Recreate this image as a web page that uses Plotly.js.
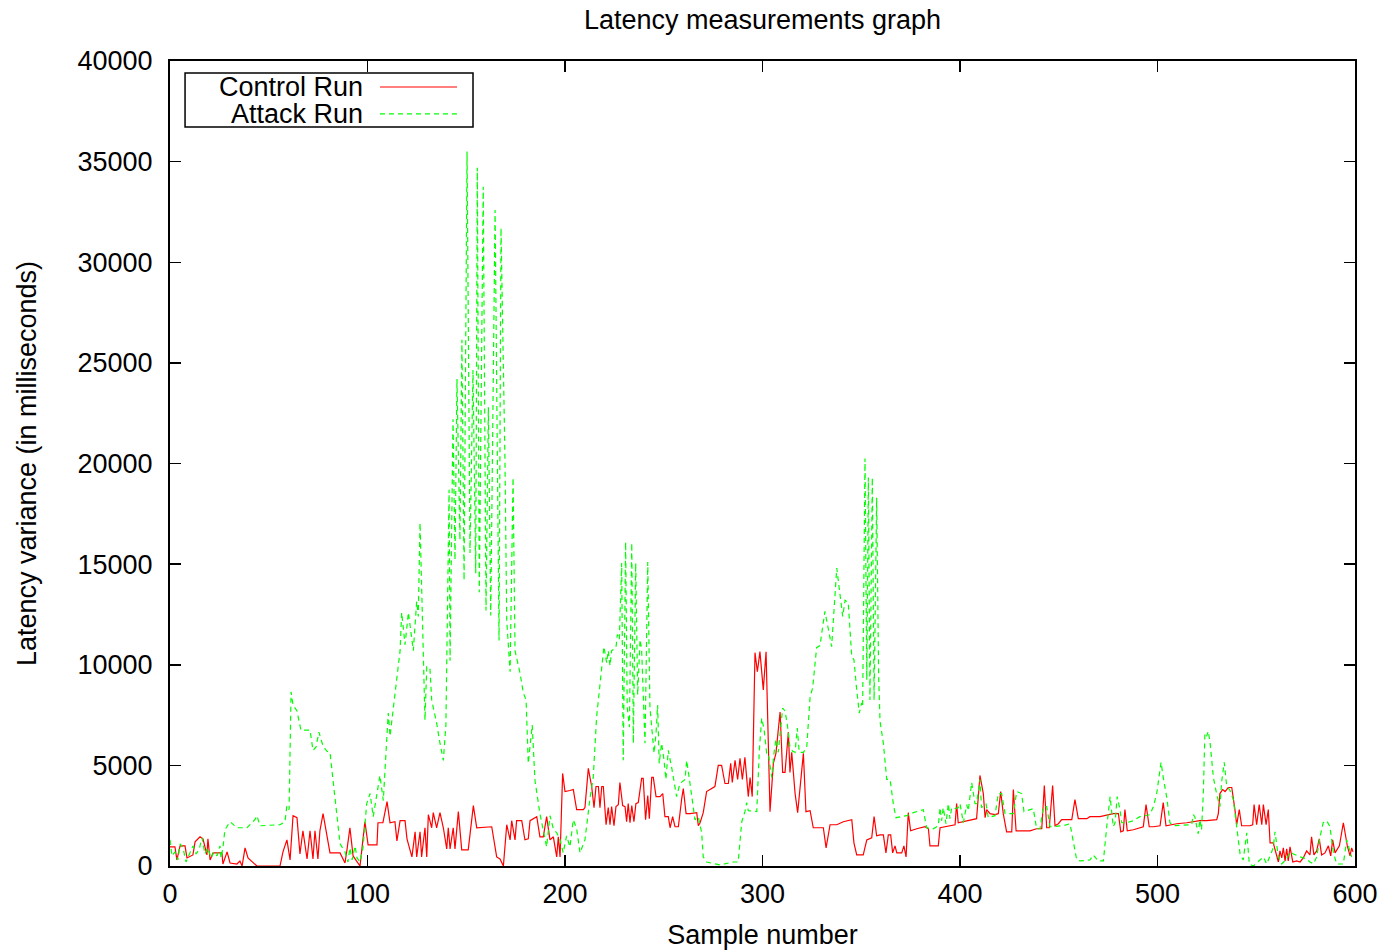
<!DOCTYPE html>
<html>
<head>
<meta charset="utf-8">
<script src="https://cdn.plot.ly/plotly-3.0.1.min.js"></script>
<style>html,body{margin:0;padding:0;background:#fff;}#chart{width:1384px;height:951px;}</style>
</head>
<body>
<div id="chart"></div>
<script>
// ---- data ----
const chartTitle = "Latency measurements graph";
const xTitle = "Sample number";
const yTitle = "Latency variance (in milliseconds)";
const seriesNames = ["Control Run", "Attack Run"];
const xTickVals = [0, 100, 200, 300, 400, 500, 600];
const yTickVals = [0, 5000, 10000, 15000, 20000, 25000, 30000, 35000, 40000];

const controlX = [
0,2.5,3.5,5.1,7.6,8.6,11.6,12.7,15.2,16.7,
18.7,19.2,20.3,21.8,26.3,26.8,28.9,30.4,33.9,35.4,
36.5,38,39.5,42,44,55.7,57.2,59.2,60.8,62.3,
64.3,65.8,67.3,69.4,70.9,72.4,73.4,74.9,75.9,77.5,
79.5,81,86.1,88.6,89.6,91.1,92.7,94.7,96.2,98.7,
100.3,104.8,105.3,107.8,109.9,111.4,113.9,114.9,116.5,119,
120,121.5,122.5,124.1,124.9,126.6,127.4,129.1,130,130.8,
132.5,133.3,135,136.7,138.4,140.1,140.9,141.8,143.4,144.3,
146,147.7,151,153.6,155.3,162.9,165.4,167.1,168.8,170.5,
172.2,173,174.7,175.5,178.1,179.7,181.4,182.3,185.7,187.3,
189,190.7,192.4,194.1,195.8,196.6,197.5,198.8,200,202.5,
204.2,205.9,209.3,210.1,211.8,213.5,214.7,215.7,216.9,217.7,
218.6,219.4,220.8,221.9,222.8,223.6,224.8,225.8,227,227.8,
229.2,230.4,231.2,232,232.9,233.8,234.9,235.9,237.1,238.8,
239.6,240.8,241.9,242.7,243.9,244.7,246.1,248.1,249.5,250.6,
252.3,253.2,254.5,255.7,257.4,259.1,259.9,261.3,263.3,266.7,
267.5,268.4,270,271.7,275.9,277.6,279.3,281,282.7,283.9,
284.7,286.1,287.4,288.6,289.8,291.1,292.8,293.7,294.8,296.2,
297.4,298.7,300.4,301.8,303.8,305.5,306.8,308.9,310.2,311.4,
313.1,313.9,314.8,316.5,317.8,320.7,322,324.1,325.7,330.8,
332.2,334.2,337.6,340.9,345.2,346.3,347.7,351,352.8,355.3,
356.5,357.8,359.5,361.2,362.5,363.7,364.9,365.9,367.1,368,
370.5,371.6,372.7,373.8,375,378.1,382.3,384,384.8,389,
389.9,397.5,398.3,399.1,401.7,405.1,408.4,410.1,411.8,412.7,
413.5,415.2,417.7,419.4,420.6,421.9,423.6,426.2,427,428.4,
435.4,438.8,441.4,442.7,443.9,445.2,446.9,448.1,449.8,451.5,
456.6,458.2,459.9,464.2,465.8,470.9,477.6,480.2,481.4,482.7,
483.5,484.7,487.8,492.8,494.2,495.8,497.9,501.3,502.9,504.3,
509.7,514.8,518.1,521.5,524.9,528.3,530,530.8,531.6,533,
534.2,535.8,537.6,539.2,540.1,541.4,542.6,546.8,548.2,548.9,
550.2,551.5,552.8,553.6,555,556.1,557,558.6,560,561.2,
562,562.9,563.7,564.6,565.4,566.2,567.1,568.5,570.5,572.2,
573.8,575.5,577.2,578,579.2,580.6,581.9,583.1,584.8,586.5,
587.7,588.7,589.9,592.1,594.1,596.1,597.5,598.3,599];

const controlY = [
950,950,300,1000,1000,400,550,1200,1450,1350,
550,1350,300,650,650,100,700,150,100,250,
0,900,400,150,0,0,700,1300,300,2500,
2400,600,1750,350,1750,350,1750,350,1750,2600,
1550,650,650,150,800,1900,500,200,0,2200,
1050,1050,2150,2150,3200,2150,2200,1250,2250,2250,
1350,800,450,1700,450,1700,450,1900,450,2550,
1900,2650,1900,2650,1900,850,1900,850,1900,850,
2700,800,800,3000,1900,1950,450,350,0,2050,
1300,2250,1300,2250,2250,1300,1350,2250,2450,1450,
1450,2450,1300,1450,450,1450,450,4600,3700,3750,
3800,2800,2800,2900,4850,3950,2900,3950,3950,2900,
3950,3950,2050,2900,2050,2950,2000,2950,3050,4150,
3000,2950,2200,3100,2150,3000,2200,3100,3150,4350,
4350,2300,3500,2350,4400,4400,3450,3450,3600,2450,
2450,1900,2450,1950,1950,3350,3850,2600,2600,2650,
2000,2150,2650,3700,3950,5000,5000,4100,4100,5100,
4150,5250,4300,5350,4300,5400,3450,4400,3450,10600,
9650,10650,8750,10650,2700,5100,5600,7650,4650,4650,
6650,4650,5650,3600,2650,5600,2700,2750,1900,1900,
900,2050,2050,2200,2300,1150,550,550,1300,1400,
2450,1500,1550,1550,650,1550,1550,650,1000,650,
650,1000,450,2650,1750,1850,1950,1850,1000,1000,
1900,2050,3100,2150,2200,2300,2350,4500,3600,2400,
2800,2600,2550,2600,3700,2600,1700,1700,3800,1750,
1750,1850,1850,4000,1900,1900,4000,2000,2100,2300,
2300,3300,2350,2350,2450,2450,2600,2600,1700,1750,
2800,1750,1800,1950,3050,1950,1950,2000,3150,2000,
2100,2150,2200,2250,2250,2300,2300,2600,3600,3800,
3700,3900,3900,2800,2050,2800,2000,2000,2050,3050,
2050,3050,2050,3050,2050,2800,1150,1150,700,200,
750,400,900,250,850,250,950,200,250,200,
400,750,550,1450,550,750,1350,550,650,1000,
500,1300,650,1000,2150,1000,500,900,700];

const attackX = [
0,1,2.5,4,5.1,6.6,8.1,10.1,11.6,13.2,
14.7,16.2,17.7,19.2,20.8,22.3,23.8,25.3,25.8,26.8,
27.8,30.4,33.9,39,43,44,45.6,55.7,58.2,59.2,
60.3,61.3,62.3,64.3,66.3,70.9,72.4,73.9,75.4,77.5,
79.5,81,86.1,88.6,90.1,91.1,92.2,93.7,94.7,96.2,
97.7,99.6,101.3,102.9,106.3,108,110.5,111.4,113.9,116.5,
117.3,119,120.7,123.2,124.9,125.7,126.6,128.3,129.1,130,
131.6,132.5,135,136.7,138.4,139.7,141.3,141.8,143.3,144.3,
145.3,146.8,147.8,148.9,150.4,151.9,153.4,154.8,155.6,156.6,
157.5,158.6,160,161.2,162.4,164.6,166.6,167.6,169.6,170.5,
172.2,173.7,174.7,177.2,178.9,180.3,181.4,183.4,184.8,187.3,
190.7,192.4,194.1,195.8,197.5,199.1,200.8,202.5,204.2,205.9,
207.6,210.1,212.7,214.3,216,218.6,219.7,221.1,221.9,222.8,
223.6,225.8,226.5,227.5,228.7,229.5,230.7,231.5,232.6,233.8,
234.6,235.8,236.8,238,238.8,240.5,241.9,243,245.1,246.1,
246.9,247.7,248.9,250.1,251.1,252.3,254,256.5,258.2,260.8,
261.6,263.3,265.8,267.5,269.2,270,271.7,278.5,285.2,287.7,
289.5,291.1,292,292.8,297.1,298.4,299.6,300.8,302.1,302.9,
304.7,305.8,306.8,308,310.2,311.4,312.6,313.9,315.3,316.5,
317.6,318.6,320.7,322.4,324.1,325.4,327.4,329.1,330.5,331.6,
333.3,335,337.6,339.2,340.6,341.8,343.4,345.2,346.3,347.7,
349,350.2,350.7,351.9,352.8,353.6,354.4,355.6,356.5,357.8,
358.8,359.5,361.2,362.9,364.6,366.3,367.6,373,376.4,381.4,
383.1,386.5,389,389.9,390.7,391.5,392.9,394.1,394.9,395.8,
397.5,399.1,400,401.7,403.4,404.2,405.9,407.6,408.4,410.1,
410.9,413.2,414.3,417.7,419.4,421.1,422.8,427,428.7,431.2,
432.4,437.1,438.8,440.5,442.2,443.9,445.6,452.3,455.7,459.1,
460.8,465.8,467.5,470,472.6,474.3,476,477.6,478.5,479.6,
481,481.9,484.4,487.8,491.1,496.2,497.9,499.6,501.8,502.9,
504.7,506.3,508,517.3,518.1,518.9,519.8,520.6,521.5,522.3,
523.2,524,524.9,525.7,526.6,528.3,530,531.6,532.5,533.8,
535,535.8,536.7,538.4,540.1,541.8,543.4,545.2,546.5,548.5,
551.9,553.6,555.3,558.6,559.5,561.2,562.9,565.4,567.1,568.8,
572.2,575.5,577.2,578.9,580.6,582.3,583.9,585.7,587.3,589,
590.7,594.1,595.8,597.5,598.3];

const attackY = [
1300,500,700,300,1100,900,200,700,1000,600,
800,1400,600,900,400,700,500,1000,400,900,
1800,2200,1900,1900,2300,2500,2000,2050,2200,3000,
2800,8650,8000,7700,6750,6750,5750,5900,6650,5950,
5700,5650,1100,700,200,900,300,1000,400,200,
900,3100,3600,2450,4500,3250,7600,6450,8600,10700,
12600,11000,12600,10700,13150,12400,17050,10250,7250,9900,
9850,8250,7100,6100,5250,7000,18700,10200,22200,15200,
24200,16200,26150,14200,35500,15550,24650,14550,34700,13600,
22500,33750,12700,22800,12450,32600,11200,31700,20200,12200,
9650,19300,10700,9600,8600,8250,5100,7000,4250,2600,
950,2500,1850,1650,1300,650,1500,950,2300,1850,
650,1300,3400,4400,7400,9900,10900,10100,10700,9950,
10700,10850,11500,11250,15050,5250,16100,7900,6900,16050,
6100,15050,8500,11250,10750,6100,15100,7900,5600,6600,
8000,5100,6100,5300,4300,5750,4900,3450,4100,4300,
5250,4100,2300,2450,1650,450,200,50,200,200,
2200,2700,3150,2750,2700,5750,7350,6800,5600,5600,
4400,5600,6300,5650,7850,7700,7000,5900,5700,5650,
6850,5650,5650,5900,8400,8850,10850,10950,12050,12650,
11800,10900,14800,13350,12400,13200,13100,10400,10250,8750,
7600,8100,7900,20250,9250,19300,8250,19300,8250,18300,
9500,7200,6100,4300,4300,3050,2400,2500,2650,2800,
1900,1850,2000,2900,2250,2900,2100,3100,2350,2900,
2850,2900,3100,2150,3050,2750,4150,3100,3100,4300,
2900,3100,2400,2500,3600,3600,2600,2600,3700,3600,
2700,2850,1850,1850,2950,2950,1950,2000,2100,300,
250,300,550,250,250,1950,3450,1950,2150,3450,
2800,2150,2150,2250,2450,2550,2950,3600,5150,4400,
3400,2150,2000,2050,2550,2450,1950,1600,2300,1800,
3600,6600,6450,6700,6150,4400,3550,2950,4200,5150,
4000,3850,3750,3300,1900,600,300,1650,100,0,
300,450,100,900,1700,450,100,350,700,600,
450,350,200,100,450,1450,2150,2250,1950,700,
100,100,1300,800,450];

// ---- styles ----
const FONT = "Liberation Sans, Arial, Helvetica, sans-serif";
const FS = 27;
const RED = "#ff0000";
const GREEN = "#00ff00";
const GREEN_DASH = "5px,4px";

const traces = [
  {x: controlX, y: controlY, name: seriesNames[0], type: "scatter", mode: "lines",
   line: {color: RED, width: 1.2}, hoverinfo: "x+y"},
  {x: attackX, y: attackY, name: seriesNames[1], type: "scatter", mode: "lines",
   line: {color: GREEN, width: 1.2, dash: GREEN_DASH}, hoverinfo: "x+y"}
];

const axisCommon = {
  showline: true, linecolor: "#000", linewidth: 2, mirror: "ticks",
  ticks: "inside", ticklen: 11, tickwidth: 1.5, tickcolor: "#000",
  showgrid: false, zeroline: false, automargin: false,
  tickfont: {family: FONT, size: FS, color: "#000"}
};

// legend box (gnuplot-style: text right-aligned, sample to the right)
const legBox = {x0: 0.0127, x1: 0.2557, y0: 0.918, y1: 0.985};
const legRows = [0.9677, 0.9342];
const legTextX = 0.1646, legLineX0 = 0.1772, legLineX1 = 0.2422;

const shapes = [
  {type: "rect", xref: "paper", yref: "paper", x0: legBox.x0, x1: legBox.x1, y0: legBox.y0, y1: legBox.y1,
   line: {color: "#000", width: 1.5}, fillcolor: "rgba(255,255,255,0)"},
  {type: "line", xref: "paper", yref: "paper", x0: legLineX0, x1: legLineX1, y0: legRows[0], y1: legRows[0],
   line: {color: RED, width: 1.2}},
  {type: "line", xref: "paper", yref: "paper", x0: legLineX0, x1: legLineX1, y0: legRows[1], y1: legRows[1],
   line: {color: GREEN, width: 1.2, dash: GREEN_DASH}}
];

const annotations = seriesNames.map((n, i) => ({
  text: n, xref: "paper", yref: "paper", x: legTextX, y: legRows[i],
  xanchor: "right", yanchor: "middle", showarrow: false,
  font: {family: FONT, size: FS, color: "#000"}
}));

const layout = {
  width: 1384, height: 951,
  margin: {l: 170, r: 29, t: 61, b: 85, pad: 0},
  paper_bgcolor: "#fff", plot_bgcolor: "#fff",
  showlegend: false,
  font: {family: FONT, size: FS, color: "#000"},
  title: {text: chartTitle, font: {family: FONT, size: FS, color: "#000"},
          x: 0.5, xanchor: "center", xref: "paper", y: 1 - 20/951, yanchor: "middle", yref: "container"},
  xaxis: Object.assign({}, axisCommon, {
    range: [0, 600], tickvals: xTickVals, ticktext: xTickVals.map(String),
    ticklabelstandoff: 3,
    title: {text: xTitle, font: {family: FONT, size: FS, color: "#000"}, standoff: 17}
  }),
  yaxis: Object.assign({}, axisCommon, {
    range: [0, 40000], tickvals: yTickVals, ticktext: yTickVals.map(String),
    ticklabelstandoff: 10,
    title: {text: yTitle, font: {family: FONT, size: FS, color: "#000"}, standoff: 33}
  }),
  shapes: shapes,
  annotations: annotations
};

Plotly.newPlot("chart", traces, layout, {displayModeBar: false, staticPlot: true});
</script>
</body>
</html>
